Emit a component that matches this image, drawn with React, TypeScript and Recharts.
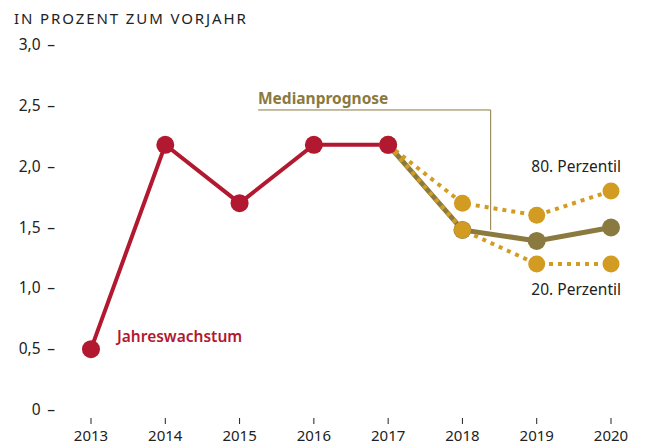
import React from 'react';
import { LineChart, Line, XAxis, YAxis, ReferenceLine } from 'recharts';

// Jahre und Werte (in Prozent zum Vorjahr)
const YEARS = [2013, 2014, 2015, 2016, 2017, 2018, 2019, 2020];
const JAHRESWACHSTUM = [0.5, 2.18, 1.7, 2.18, 2.18, null, null, null];
const MEDIAN = [null, null, null, null, 2.18, 1.48, 1.39, 1.5];
const P80 = [null, null, null, null, 2.18, 1.7, 1.6, 1.8];
const P20 = [null, null, null, null, 2.18, 1.48, 1.2, 1.2];
const Y_TICKS = [0, 0.5, 1, 1.5, 2, 2.5, 3];

const RED = '#b2182f';
const OLIVE = '#8a7a3f';
const GOLD = '#d29c22';
const TEXT = '#222';
const FONT = '"Noto Sans", sans-serif';

const data = YEARS.map((year, i) => ({
  year,
  ist: JAHRESWACHSTUM[i],
  median: MEDIAN[i],
  p80: P80[i],
  p20: P20[i],
}));

const fmt = (v: number) => (v === 0 ? '0' : v.toFixed(1).replace('.', ','));

const YTick = (props: any) => {
  const { y, payload } = props;
  return (
    <text x={55} y={y} dy={5} textAnchor="end" fontSize={15.5} fill={TEXT} fontFamily={FONT}>
      {fmt(payload.value)}{'\u00a0\u2009'}–
    </text>
  );
};

const XTick = (props: any) => {
  const { x, y, payload } = props;
  return (
    <g>
      <line x1={x} x2={x} y1={y - 6} y2={y} stroke={TEXT} strokeWidth={1} />
      <text x={x} y={y + 17} textAnchor="middle" fontSize={15} fill={TEXT} fontFamily={FONT}>
        {payload.value}
      </text>
    </g>
  );
};

const App: React.FC = () => {
  return (
    <div style={{ position: 'absolute', left: 0, top: 0, width: 663, height: 444, background: '#fff' }}>
      <LineChart width={663} height={444} data={data} margin={{ top: 45, right: 52, bottom: 0, left: 0 }}>
        <XAxis
          dataKey="year"
          type="number"
          domain={[2013, 2020]}
          ticks={YEARS}
          axisLine={false}
          tickLine={false}
          tick={<XTick />}
          tickMargin={8}
          height={34}
          interval={0}
        />
        <YAxis
          domain={[0, 3]}
          ticks={Y_TICKS}
          axisLine={false}
          tickLine={false}
          tick={<YTick />}
          width={91}
          interval={0}
        />
        <ReferenceLine
          segment={[{ x: 2015.25, y: 2.466 }, { x: 2018.38, y: 2.466 }]}
          stroke={OLIVE}
          strokeWidth={1}
          ifOverflow="visible"
        />
        <ReferenceLine
          segment={[{ x: 2018.38, y: 2.466 }, { x: 2018.38, y: 1.48 }]}
          stroke={OLIVE}
          strokeWidth={1}
          ifOverflow="visible"
        />
        <Line
          dataKey="median"
          stroke={OLIVE}
          strokeWidth={5}
          dot={{ r: 9, fill: OLIVE, stroke: 'none' }}
          isAnimationActive={false}
        />
        <Line
          dataKey="p80"
          stroke={GOLD}
          strokeWidth={4}
          strokeDasharray="4 5"
          dot={{ r: 8.5, fill: GOLD, stroke: 'none', strokeDasharray: '0' }}
          isAnimationActive={false}
        />
        <Line
          dataKey="p20"
          stroke={GOLD}
          strokeWidth={4}
          strokeDasharray="4 5"
          dot={{ r: 8.5, fill: GOLD, stroke: 'none', strokeDasharray: '0' }}
          isAnimationActive={false}
        />
        <Line
          dataKey="ist"
          stroke={RED}
          strokeWidth={4}
          dot={{ r: 9, fill: RED, stroke: 'none' }}
          isAnimationActive={false}
        />
      </LineChart>
      <svg width={663} height={444} style={{ position: 'absolute', left: 0, top: 0, pointerEvents: 'none' }}>
        <text x={14} y={24} fontSize={15} letterSpacing={1.9} fill={TEXT} fontFamily={FONT}>
          IN PROZENT ZUM VORJAHR
        </text>
        <text x={258} y={104} fontSize={15.5} fontWeight={700} fill={OLIVE} fontFamily={FONT}>
          Medianprognose
        </text>
        <text x={621} y={172} fontSize={15.5} textAnchor="end" fill={TEXT} fontFamily={FONT}>
          80. Perzentil
        </text>
        <text x={621} y={295} fontSize={15.5} textAnchor="end" fill={TEXT} fontFamily={FONT}>
          20. Perzentil
        </text>
        <text x={117} y={342} fontSize={15.5} fontWeight={600} fill={RED} fontFamily={FONT}>
          Jahreswachstum
        </text>
      </svg>
    </div>
  );
};

export default App;
